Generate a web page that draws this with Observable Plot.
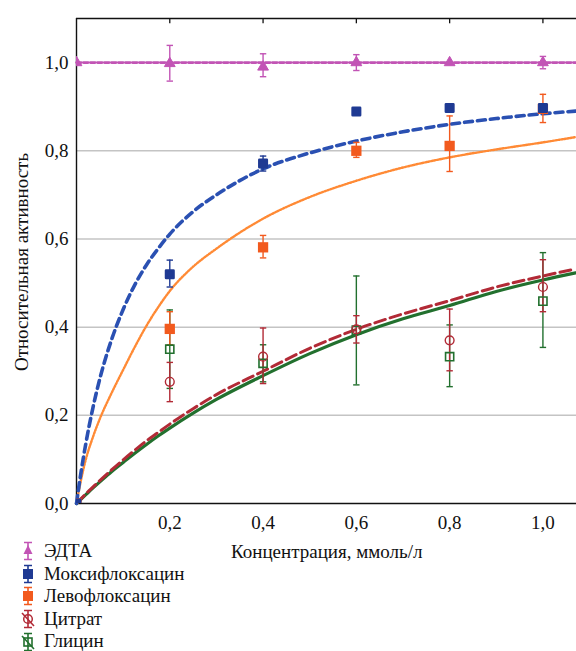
<!DOCTYPE html>
<html>
<head>
<meta charset="utf-8">
<script src="https://cdn.jsdelivr.net/npm/d3@7"></script>
<script src="https://cdn.jsdelivr.net/npm/@observablehq/plot@0.6"></script>
<style>
  html, body { margin: 0; padding: 0; background: white; }
  #wrap { position: relative; width: 576px; height: 651px; overflow: hidden; font-family: "Liberation Serif", "Times New Roman", serif; color: #111; }
  #wrap > svg { position: absolute; left: 0; top: 0; }
  .ytitle { position: absolute; left: 22px; top: 262px; transform: translate(-50%, -50%) rotate(-90deg); white-space: nowrap; font-size: 19px; }
  .xtitle { position: absolute; left: 231px; top: 541px; white-space: nowrap; font-size: 19px; }
  .legend { position: absolute; left: 20px; top: 540px; font-size: 19px; }
  .legend .row { height: 22.6px; line-height: 22.6px; display: flex; align-items: center; white-space: nowrap; }
  .legend .row svg { display: block; flex: none; margin-right: 7px; }
</style>
</head>
<body>
<div id="wrap"></div>
<script>
// ---- data ----
const conc = [0, 0.2, 0.4, 0.6, 0.8, 1.0];
const conc5 = [0.2, 0.4, 0.6, 0.8, 1.0];

const edtaVal = [1.0, 0.998, 0.99, 1.0, 1.0, 1.0];
const edtaLo  = [null, 0.958, 0.968, 0.982, null, 0.986];
const edtaHi  = [null, 1.039, 1.02, 1.018, null, 1.014];

const moxiVal = [0, 0.52, 0.771, 0.889, 0.897, 0.897];
const moxiLo  = [null, 0.491, 0.754, null, null, null];
const moxiHi  = [null, 0.552, 0.788, null, null, null];

const levoVal = [0, 0.396, 0.581, 0.80, 0.811, 0.895];
const levoLo  = [null, 0.36, 0.557, 0.785, 0.753, 0.864];
const levoHi  = [null, 0.435, 0.608, 0.819, 0.879, 0.928];

const citrVal = [0.276, 0.333, 0.395, 0.370, 0.491];
const citrLo  = [0.231, 0.272, 0.364, 0.301, 0.435];
const citrHi  = [0.320, 0.398, 0.426, 0.441, 0.553];

const glyVal = [0.350, 0.318, 0.393, 0.333, 0.459];
const glyLo  = [0.261, 0.276, 0.269, 0.265, 0.354];
const glyHi  = [0.439, 0.360, 0.516, 0.405, 0.569];

// fitted curves
const fitX     = [0, 0.01, 0.02, 0.035, 0.05, 0.075, 0.1, 0.125, 0.15, 0.175, 0.2, 0.25, 0.3, 0.4, 0.5, 0.6, 0.7, 0.8, 0.9, 1.0, 1.07];
const edtaFitX = [0, 1.07];
const edtaFit  = [1.0, 1.0];
const moxiFit  = [0, 0.073, 0.136, 0.216, 0.283, 0.371, 0.44, 0.496, 0.541, 0.578, 0.611, 0.662, 0.70, 0.759, 0.795, 0.822, 0.843, 0.860, 0.873, 0.884, 0.890];
const levoFit  = [0, 0.055, 0.10, 0.15, 0.192, 0.25, 0.303, 0.355, 0.403, 0.445, 0.482, 0.537, 0.578, 0.646, 0.695, 0.732, 0.762, 0.785, 0.803, 0.819, 0.831];
const citrFit  = [0, 0.011, 0.022, 0.037, 0.052, 0.076, 0.099, 0.121, 0.142, 0.161, 0.180, 0.215, 0.247, 0.300, 0.352, 0.395, 0.430, 0.460, 0.491, 0.516, 0.532];
const glyFit   = [0, 0.010, 0.020, 0.035, 0.049, 0.072, 0.093, 0.114, 0.134, 0.153, 0.171, 0.205, 0.236, 0.290, 0.340, 0.383, 0.419, 0.449, 0.481, 0.507, 0.523];

const xTicks = [0.2, 0.4, 0.6, 0.8, 1.0];
const yTicks = [0, 0.2, 0.4, 0.6, 0.8, 1.0];
const gridTicks = [0.2, 0.4, 0.6, 0.8, 1.0];

const series = ["ЭДТА", "Моксифлоксацин", "Левофлоксацин", "Цитрат", "Глицин"];
const colors = {
  edta: "#c254b5", moxiDot: "#1f3a93", moxiLine: "#2a50b2",
  levoDot: "#f25a1e", levoLine: "#ff8a35", citr: "#b22a36", gly: "#22702e"
};

// ---- build tables ----
const pts = (xs, v, lo, hi) => xs.map((x, i) => ({x, y: v[i], lo: lo[i], hi: hi[i]}));
const curve = (xs, ys) => xs.map((x, i) => ({x, y: ys[i]}));
const edta = pts(conc, edtaVal, edtaLo, edtaHi);
const moxi = pts(conc, moxiVal, moxiLo, moxiHi);
const levo = pts(conc, levoVal, levoLo, levoHi);
const citr = pts(conc5, citrVal, citrLo, citrHi);
const gly  = pts(conc5, glyVal, glyLo, glyHi);
const withErr = d => d.filter(p => p.lo != null);

const fmt = d => d.toFixed(1).replace(".", ",");
const cap = { draw(ctx, size) { const r = Math.sqrt(size / Math.PI); ctx.moveTo(-r, 0); ctx.lineTo(r, 0); } };

function errMarks(data, color) {
  const e = withErr(data);
  return [
    Plot.ruleX(e, {x: "x", y1: "lo", y2: "hi", stroke: color, strokeWidth: 1.4}),
    Plot.dot(e, {x: "x", y: "lo", symbol: cap, r: 3.2, stroke: color, fill: "none", strokeWidth: 1.4}),
    Plot.dot(e, {x: "x", y: "hi", symbol: cap, r: 3.2, stroke: color, fill: "none", strokeWidth: 1.4})
  ];
}

const chart = Plot.plot({
  width: 576, height: 651,
  marginTop: 18, marginBottom: 148, marginLeft: 76, marginRight: 0,
  x: {domain: [0, 1.072]},
  y: {domain: [0, 1.1]},
  style: {fontFamily: "'Liberation Serif', 'Times New Roman', serif", fontSize: "19px", color: "#111", background: "white"},
  marks: [
    Plot.gridY(gridTicks, {stroke: "#c4c4c4", strokeOpacity: 1, strokeWidth: 1.5}),
    Plot.axisY(yTicks, {tickSize: 0, tickPadding: 8, tickFormat: fmt, label: null}),
    Plot.axisX(xTicks, {tickSize: 0, tickPadding: 12, tickFormat: fmt, label: null}),
    Plot.ruleX(xTicks, {y1: 1.1, y2: 1.088, stroke: "#111", strokeWidth: 1.3}),
    Plot.ruleX([0], {stroke: "#111", strokeWidth: 1.4}),
    Plot.ruleY([0, 1.1], {stroke: "#111", strokeWidth: 1.4}),

    // fitted curves
    Plot.line(curve(fitX, glyFit), {x: "x", y: "y", curve: "monotone-x", stroke: colors.gly, strokeWidth: 3.2}),
    Plot.line(curve(fitX, citrFit), {x: "x", y: "y", curve: "monotone-x", stroke: colors.citr, strokeWidth: 3, strokeDasharray: "11,5"}),
    Plot.line(curve(fitX, levoFit), {x: "x", y: "y", curve: "monotone-x", stroke: colors.levoLine, strokeWidth: 2.4, strokeDasharray: "1.5,1.5"}),
    Plot.line(curve(fitX, moxiFit), {x: "x", y: "y", curve: "monotone-x", stroke: colors.moxiLine, strokeWidth: 3.6, strokeDasharray: "8,5"}),
    Plot.line(curve(edtaFitX, edtaFit), {x: "x", y: "y", stroke: colors.edta, strokeWidth: 2.8, strokeDasharray: "4.5,2.5"}),

    // error bars
    ...errMarks(gly, colors.gly),
    ...errMarks(citr, colors.citr),
    ...errMarks(levo, colors.levoDot),
    ...errMarks(moxi, colors.moxiDot),
    ...errMarks(edta, colors.edta),

    // markers
    Plot.dot(gly, {x: "x", y: "y", symbol: "square", r: 4.6, stroke: colors.gly, fill: "white", fillOpacity: 0, strokeWidth: 1.6}),
    Plot.dot(citr, {x: "x", y: "y", symbol: "circle", r: 4.4, stroke: colors.citr, fill: "none", strokeWidth: 1.4}),
    Plot.dot(levo, {x: "x", y: "y", symbol: "square", r: 5.8, fill: colors.levoDot, stroke: "none", clip: true}),
    Plot.dot(moxi, {x: "x", y: "y", symbol: "square", r: 4.2, fill: colors.moxiDot, stroke: colors.moxiDot, strokeWidth: 2.6, strokeLinejoin: "round", clip: true}),
    Plot.dot(edta, {x: "x", y: "y", symbol: "triangle", r: 4, fill: colors.edta, stroke: colors.edta, strokeWidth: 1, clip: true})
  ]
});

const wrap = document.getElementById("wrap");
wrap.appendChild(chart);

const yt = document.createElement("div");
yt.className = "ytitle"; yt.textContent = "Относительная активность";
wrap.appendChild(yt);
const xt = document.createElement("div");
xt.className = "xtitle"; xt.textContent = "Концентрация, ммоль/л";
wrap.appendChild(xt);

// legend
const icon = (color, kind) => {
  let m = "";
  if (kind === "tri") m = `<path d="M8,4 L12.5,13 L3.5,13 Z" fill="${color}"/>`;
  if (kind === "fsq") m = `<rect x="3" y="5" width="10" height="10" fill="${color}"/>`;
  if (kind === "osq") m = `<rect x="4" y="6" width="8" height="8" fill="none" stroke="${color}" stroke-width="1.6"/><path d="M2,4 L14,17" stroke="${color}" stroke-width="1.6"/>`;
  if (kind === "ocirc") m = `<circle cx="8" cy="10" r="4.3" fill="none" stroke="${color}" stroke-width="1.5"/><path d="M2,4 L14,17" stroke="${color}" stroke-width="1.6"/>`;
  return `<svg width="17" height="20" viewBox="0 0 17 20"><path d="M4,1.5 H12 M8,1.5 V18.5 M4,18.5 H12" stroke="${color}" stroke-width="1.6" fill="none"/>${m}</svg>`;
};
const legendItems = [
  [series[0], colors.edta, "tri"],
  [series[1], colors.moxiDot, "fsq"],
  [series[2], colors.levoDot, "fsq"],
  [series[3], colors.citr, "ocirc"],
  [series[4], colors.gly, "osq"]
];
const lg = document.createElement("div");
lg.className = "legend";
lg.innerHTML = legendItems.map(([t, c, k]) => `<div class="row">${icon(c, k)}<span>${t}</span></div>`).join("");
wrap.appendChild(lg);
</script>
</body>
</html>
